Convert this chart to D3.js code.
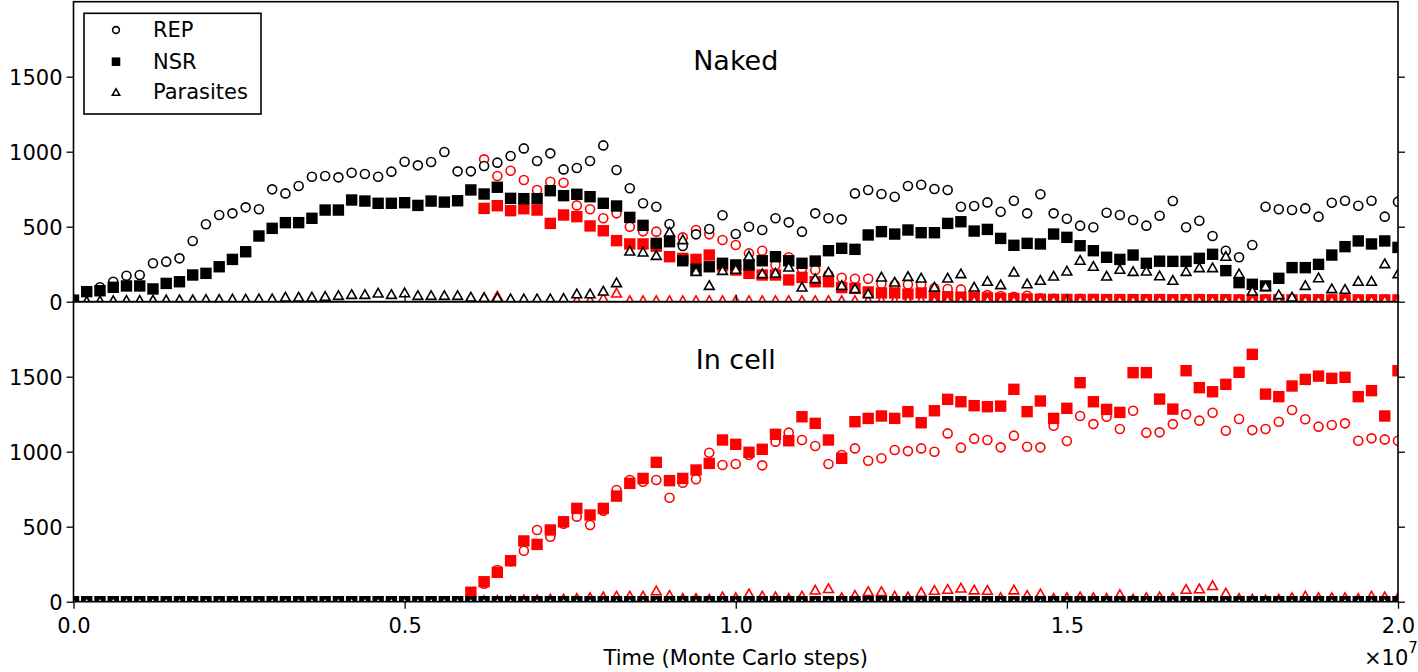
<!DOCTYPE html>
<html><head><meta charset="utf-8">
<script src="https://cdn.jsdelivr.net/npm/d3@7"></script>
<style>body{margin:0;background:#fff}svg{display:block}text{font-family:"DejaVu Sans",sans-serif}</style>
</head><body><svg id="c" width="1418" height="672"></svg>
<script>
// time axis: one sample every 2e5 Monte Carlo steps
const steps = d3.range(0, 2e7 + 1, 2e5);
const xTicks = [0, 5e6, 1e7, 1.5e7, 2e7];
const yTicks = [0, 500, 1000, 1500];
const seriesNames = ["REP", "NSR", "Parasites"];
const panelTitles = ["Naked", "In cell"];

// ---- Naked panel, black series (start index 0)
const nakedRepBlack = [15,70,96,133,173,178,256,267,289,405,
516,578,589,629,616,749,722,771,833,838,
829,860,851,833,867,933,909,931,998,869,
869,905,927,971,1022,938,989,882,891,938,
1042,878,756,656,633,518,371,449,485,576,
451,500,478,556,529,467,589,556,549,722,
745,718,700,771,780,751,745,633,638,662,
600,673,589,716,589,553,507,496,593,578,
545,507,573,671,496,540,438,340,296,378,
633,616,611,622,567,660,673,640,673,567,
667];
const nakedNsrBlack = [10,67,73,96,105,105,85,122,133,178,
189,233,282,333,438,489,527,527,556,611,
611,678,671,656,656,660,642,671,664,673,
745,718,763,689,687,687,740,707,716,700,
656,638,562,509,389,400,273,216,233,256,
245,245,273,300,273,256,271,340,356,349,
445,467,451,478,460,460,522,533,471,482,
422,376,389,385,451,429,373,340,296,282,
311,256,270,269,269,289,316,207,127,116,
105,156,227,227,249,311,367,405,385,405,
362];
const nakedParBlack = [5,5,8,10,12,12,14,15,16,16,
18,18,20,20,22,22,33,33,33,38,
44,51,51,60,51,62,44,44,44,44,
33,30,30,22,22,22,22,25,55,55,
73,129,340,333,311,467,416,204,111,211,
218,307,189,193,233,100,156,200,111,89,
56,167,133,171,160,100,160,189,100,138,
116,200,122,145,173,207,278,238,173,218,
204,207,175,145,204,229,229,305,189,73,
105,49,33,111,162,89,85,138,138,256,
189];

// ---- Naked panel, red series (start index 31)
const nakedRedStart = 31;
const nakedRepRed = [949,838,873,811,745,800,793,642,616,
556,589,500,470,467,420,429,478,449,411,
378,322,340,245,296,220,211,180,160,153,
153,120,113,115,113,90,85,82,56,44,
38,33,40,22,20,18,20,18,17,18,
16,18,17,16,18,17,16,18,16,17,
16,15,17,16,15,16,17,15,16,15,
16];
const nakedNsrRed = [622,640,607,620,611,522,578,567,505,
473,407,385,385,370,300,289,282,311,240,
211,189,178,178,145,162,133,133,94,89,
65,58,58,51,58,40,33,30,28,25,
22,20,18,16,15,15,14,15,14,14,
14,13,14,13,13,14,13,13,12,13,
12,13,12,12,13,12,12,12,12,12,
12];
const nakedParRed = [30,40,12,12,10,10,10,10,10,
25,60,10,10,10,10,10,10,10,10,
10,10,10,10,10,10,10,10,10,10,
10,10,10,10,10,10,10,10,10,10,
10,10,10,10,10,10,10,10,10,10,
10,10,10,10,10,10,10,10,10,10,
10,10,10,10,10,10,10,10,10,10,
10];

// ---- In cell panel, black series (start index 0)
const cellRepBlack = [0,0,0,0,0,0,0,0,0,0,0,0,0,0,0,0,0,0,0,0,0,0,0,0,0,0,0,0,0,0,0,0,0,0,0,0,0,0,0,0,0,0,0,0,0,0,0,0,0,0,0,0,0,0,0,0,0,0,0,0,0,0,0,0,0,0,0,0,0,0,0,0,0,0,0,0,0,0,0,0,0,0,0,0,0,0,0,0,0,0,0,0,0,0,0,0,0,0,0,0,0];
const cellNsrBlack = [0,0,0,0,0,0,0,0,0,0,0,0,0,0,0,0,0,0,0,0,0,0,0,0,0,0,0,0,0,0,0,0,0,0,0,0,0,0,0,0,0,0,0,0,0,0,0,0,0,0,0,0,0,0,0,0,0,0,0,0,0,0,0,0,0,0,0,0,0,0,0,0,0,0,0,0,0,0,0,0,0,0,0,0,0,0,0,0,0,0,0,0,0,0,0,0,0,0,0,0,0];
const cellParBlack = [0,0,0,0,0,0,0,0,0,0,0,0,0,0,0,0,0,0,0,0,0,0,0,0,0,0,0,0,0,0,0,0,0,0,0,0,0,0,0,0,0,0,0,0,0,0,0,0,0,0,0,0,0,0,0,0,0,0,0,0,0,0,0,0,0,0,0,0,0,0,0,0,0,0,0,0,0,0,0,0,0,0,0,0,0,0,0,0,0,0,0,0,0,0,0,0,0,0,0,0,0];

// ---- In cell panel, red series (start index 30)
const cellRedStart = 30;
const cellRepRed = [40,120,211,270,340,478,433,520,567,511,
607,745,811,800,811,693,793,816,993,911,
918,978,909,1067,1127,1078,1038,918,978,1022,
940,956,1011,1004,1022,1000,1122,1027,1087,1078,
1029,1107,1033,1029,1173,1071,1238,1184,1233,1151,
1273,1127,1129,1184,1249,1207,1260,1140,1218,1144,
1151,1200,1278,1216,1167,1178,1189,1073,1089,1082,
1073];
const cellNsrRed = [63,133,196,273,405,382,478,533,622,578,
622,704,789,822,929,807,822,878,922,1078,
1049,996,1016,1116,1073,1233,1189,1078,956,1200,
1222,1238,1222,1267,1193,1273,1349,1333,1307,1300,
1304,1416,1267,1338,1222,1289,1460,1333,1282,1262,
1527,1527,1351,1284,1540,1427,1400,1449,1529,1649,
1384,1367,1438,1482,1504,1489,1496,1367,1407,1238,
1540];
const cellParRed = [10,10,12,12,15,15,20,20,25,30,
35,40,40,40,75,45,25,25,20,35,
30,55,40,35,25,40,80,90,30,45,
70,70,40,35,65,78,85,93,81,78,
30,81,45,55,25,30,35,30,25,50,
20,30,35,30,85,88,110,60,25,20,
15,20,30,40,30,30,30,25,40,35,
30];

// ---------------- drawing ----------------
const svg = d3.select("#c");
const L = 73.5, R = 1398;
const FONT = 21;
const x = d3.scaleLinear().domain([0, 2e7]).range([L, R]);

const panels = [
  {top: 1.7, bottom: 301.7, title: panelTitles[0], titleY: 70,
   series: [
     {shape:"circle", color:"red", start:nakedRedStart, vals:nakedRepRed},
     {shape:"square", color:"red", start:nakedRedStart, vals:nakedNsrRed},
     {shape:"tri", color:"red", start:nakedRedStart, vals:nakedParRed},
     {shape:"circle", color:"black", start:0, vals:nakedRepBlack},
     {shape:"square", color:"black", start:0, vals:nakedNsrBlack},
     {shape:"tri", color:"black", start:0, vals:nakedParBlack}]},
  {top: 301.7, bottom: 601.7, title: panelTitles[1], titleY: 369,
   series: [
     {shape:"circle", color:"red", start:cellRedStart, vals:cellRepRed},
     {shape:"square", color:"red", start:cellRedStart, vals:cellNsrRed},
     {shape:"tri", color:"red", start:cellRedStart, vals:cellParRed},
     {shape:"circle", color:"black", start:0, vals:cellRepBlack},
     {shape:"square", color:"black", start:0, vals:cellNsrBlack},
     {shape:"tri", color:"black", start:0, vals:cellParBlack}]}
];

function drawMarkers(g, shape, color, pts, size) {
  const s = size || 1;
  if (shape === "circle") {
    g.selectAll(null).data(pts).join("circle")
      .attr("cx", d => d[0]).attr("cy", d => d[1]).attr("r", 4.5 * s)
      .attr("fill", "#fff").attr("stroke", color).attr("stroke-width", 1.6);
  } else if (shape === "square") {
    const a = 11.4 * s;
    g.selectAll(null).data(pts).join("rect")
      .attr("x", d => d[0] - a / 2).attr("y", d => d[1] - a / 2)
      .attr("width", a).attr("height", a).attr("fill", color);
  } else {
    const h = 4.3 * s, w = 4.9 * s;
    g.selectAll(null).data(pts).join("path")
      .attr("d", d => `M${d[0]},${d[1]-h}L${d[0]+w},${d[1]+h}L${d[0]-w},${d[1]+h}Z`)
      .attr("fill", "#fff").attr("stroke", color).attr("stroke-width", 1.6)
      .attr("stroke-linejoin", "miter");
  }
}

panels.forEach((p, pi) => {
  const y = d3.scaleLinear().domain([0, 2000]).range([p.bottom, p.top]);
  const clipId = "clip" + pi;
  svg.append("clipPath").attr("id", clipId).append("rect")
    .attr("x", L).attr("y", p.top).attr("width", R - L).attr("height", p.bottom - p.top);
  const g = svg.append("g").attr("clip-path", `url(#${clipId})`);
  p.series.forEach(s => {
    const pts = s.vals.map((v, j) => [x(steps[s.start + j]), y(v)]);
    drawMarkers(g.append("g"), s.shape, s.color, pts);
  });

  // y axes left and right (outward ticks)
  const axL = svg.append("g").attr("transform", `translate(${L},0)`)
    .call(d3.axisLeft(y).tickValues(yTicks).tickSize(7).tickPadding(4).tickFormat(d3.format("d")));
  const axR = svg.append("g").attr("transform", `translate(${R},0)`)
    .call(d3.axisRight(y).tickValues(yTicks).tickSize(7).tickFormat(""));
  [axL, axR].forEach(a => {
    a.select(".domain").remove();
    a.selectAll("line").attr("stroke", "#000").attr("stroke-width", 1.3);
    a.selectAll("text").attr("font-size", FONT).attr("fill", "#000")
      .attr("font-family", "DejaVu Sans").attr("dy", "0.35em");
  });

  // x ticks
  if (pi === 0) {
    const ax = svg.append("g").attr("transform", `translate(0,${p.bottom})`)
      .call(d3.axisTop(x).tickValues(xTicks).tickSize(7).tickFormat(""));
    ax.select(".domain").remove();
    ax.selectAll("line").attr("stroke", "#000").attr("stroke-width", 1.3);
  } else {
    const ax = svg.append("g").attr("transform", `translate(0,${p.bottom})`)
      .call(d3.axisBottom(x).tickValues(xTicks).tickSize(7).tickPadding(9)
        .tickFormat(d => (d / 1e7).toFixed(1)));
    ax.select(".domain").remove();
    ax.selectAll("line").attr("stroke", "#000").attr("stroke-width", 1.3);
    ax.selectAll("text").attr("font-size", FONT).attr("fill", "#000")
      .attr("font-family", "DejaVu Sans");
  }

  // frame
  svg.append("rect").attr("x", L).attr("y", p.top).attr("width", R - L)
    .attr("height", p.bottom - p.top).attr("fill", "none")
    .attr("stroke", "#000").attr("stroke-width", 1.6);

  // title
  svg.append("text").attr("x", (L + R) / 2).attr("y", p.titleY)
    .attr("text-anchor", "middle").attr("font-size", 27).text(p.title);
});

// x label and offset text
svg.append("text").attr("x", (L + R) / 2).attr("y", 665)
  .attr("text-anchor", "middle").attr("font-size", FONT).text("Time (Monte Carlo steps)");
const off = svg.append("text").attr("x", 1364).attr("y", 665).attr("font-size", FONT);
off.append("tspan").text("×10");
off.append("tspan").attr("font-size", 15).attr("dy", -12).text("7");

// legend
const lg = svg.append("g");
lg.append("rect").attr("x", 84).attr("y", 13.3).attr("width", 177).attr("height", 100.7)
  .attr("fill", "#fff").attr("stroke", "#000").attr("stroke-width", 1.6);
const legendY = [30, 61.7, 92];
const legendShapes = ["circle", "square", "tri"];
seriesNames.forEach((n, i) => {
  drawMarkers(lg.append("g"), legendShapes[i], "#000", [[116, legendY[i]]], 0.75);
  lg.append("text").attr("x", 153).attr("y", legendY[i]).attr("dy", "0.35em")
    .attr("font-size", FONT).text(n);
});
</script></body></html>
